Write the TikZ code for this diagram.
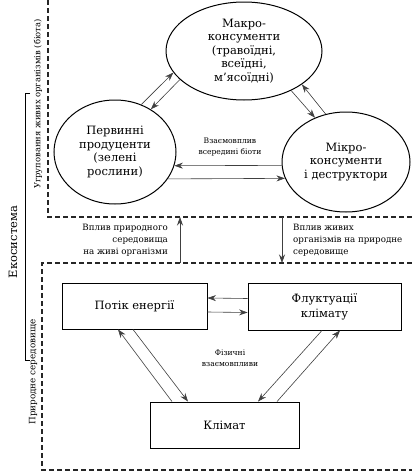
\documentclass[tikz,border=0pt]{standalone}
\usepackage{fontspec}
\setmainfont{DejaVu Serif}
\usetikzlibrary{shapes.geometric,arrows.meta}
\begin{document}
\begin{tikzpicture}[x=1pt,y=-1pt,
  ell/.style={draw, ellipse, line width=1pt, inner sep=0pt, align=center, font=\fontsize{11.5}{13.5}\selectfont},
  box/.style={draw, rectangle, line width=0.9pt, inner sep=0pt, align=center, font=\fontsize{11.5}{15}\selectfont},
  arr/.style={-{Stealth[length=8.5pt,width=6pt]}, line width=0.6pt, draw=black!75},
  region/.style={dash pattern=on 5pt off 3pt, line width=1.1pt, draw=black!85},
  small/.style={font=\fontsize{8.7}{12}\selectfont, inner sep=0pt},
  tiny/.style={font=\fontsize{7.6}{11}\selectfont, inner sep=0pt},
  side/.style={rotate=90, inner sep=0pt}]
\useasboundingbox (0,0) rectangle (412,474);
\fill[white] (0,0) rectangle (412,474);

% regions
\draw[region] (48,0) -- (48,217) -- (412,217);
\draw[region] (412,263) -- (42,263) -- (42,470) -- (412,470);

% side labels
\node[side, font=\fontsize{8.4}{10}\selectfont] (lbiota) at (38,104) {Угруповання живих організмів (біота)};
\node[side, font=\fontsize{11.5}{13}\selectfont] (leco) at (13,242) {Екосистема};
\node[side, font=\fontsize{8.8}{10}\selectfont] (lenv) at (33,372) {Природне середовище};
\draw[line width=0.9pt] (30,93) -- (25,93) -- (25,360) -- (30,360);

% ellipses
\node[ell, minimum width=156pt, minimum height=98pt] (mac) at (244,51)
  {Макро-\\консументи\\(травоїдні,\\всеїдні,\\м’ясоїдні)};
\node[ell, minimum width=122pt, minimum height=104pt] (prim) at (115,152)
  {Первинні\\продуценти\\(зелені\\рослини)};
\node[ell, minimum width=128pt, minimum height=100pt] (mic) at (346,162)
  {Мікро-\\консументи\\і деструктори};

\draw[arr] (prim.61) -- (mac.197.5);
\draw[arr] (mac.204) -- (prim.50.5);
\draw[arr] (mac.-40) -- (mic.125);
\draw[arr] (mic.113.5) -- (mac.-30.5);
\draw[arr] (mic.183.6) -- (prim.-13.6);
\draw[arr] (prim.-27.8) -- (mic.195.8);

\node[tiny, align=center] (lint) at (230,147.5) {Взаємовплив\\всередині біоти};

% between regions
\coordinate (ua) at (180,263);
\coordinate (ub) at (180,217);
\coordinate (da) at (282,217);
\coordinate (db) at (282,263);
\draw[arr] (ua) -- (ub);
\draw[arr] (da) -- (db);
\node[small, align=right, anchor=east] (lnat) at (168,240.5) {Вплив природного\\середовища\\на живі організми};
\node[small, align=left, anchor=west] (lliv) at (293,240.5) {Вплив живих\\організмів на природне\\середовище};

% boxes
\node[box, minimum width=145pt, minimum height=46pt] (en) at (134.5,306) {Потік енергії};
\node[box, minimum width=153pt, minimum height=47pt] (fl) at (324.5,306.5) {Флуктуації\\клімату};
\node[box, minimum width=149pt, minimum height=46pt] (cl) at (224.5,425) {Клімат};

\draw[arr] ([yshift=8pt]fl.west) -- ([yshift=8pt]en.east);
\draw[arr] ([yshift=-6pt]en.east) -- ([yshift=-6pt]fl.west);
\draw[arr] ([xshift=-52.5pt]cl.north) -- ([xshift=-16.5pt]en.south);
\draw[arr] ([xshift=-1.5pt]en.south) -- ([xshift=-36.5pt]cl.north);
\draw[arr] ([xshift=-2.5pt]fl.south) -- ([xshift=33.5pt]cl.north);
\draw[arr] ([xshift=52.5pt]cl.north) -- ([xshift=15.5pt]fl.south);

\node[tiny, align=center] (lphys) at (230,358) {Фізичні\\взаємовпливи};
\end{tikzpicture}
\end{document}
